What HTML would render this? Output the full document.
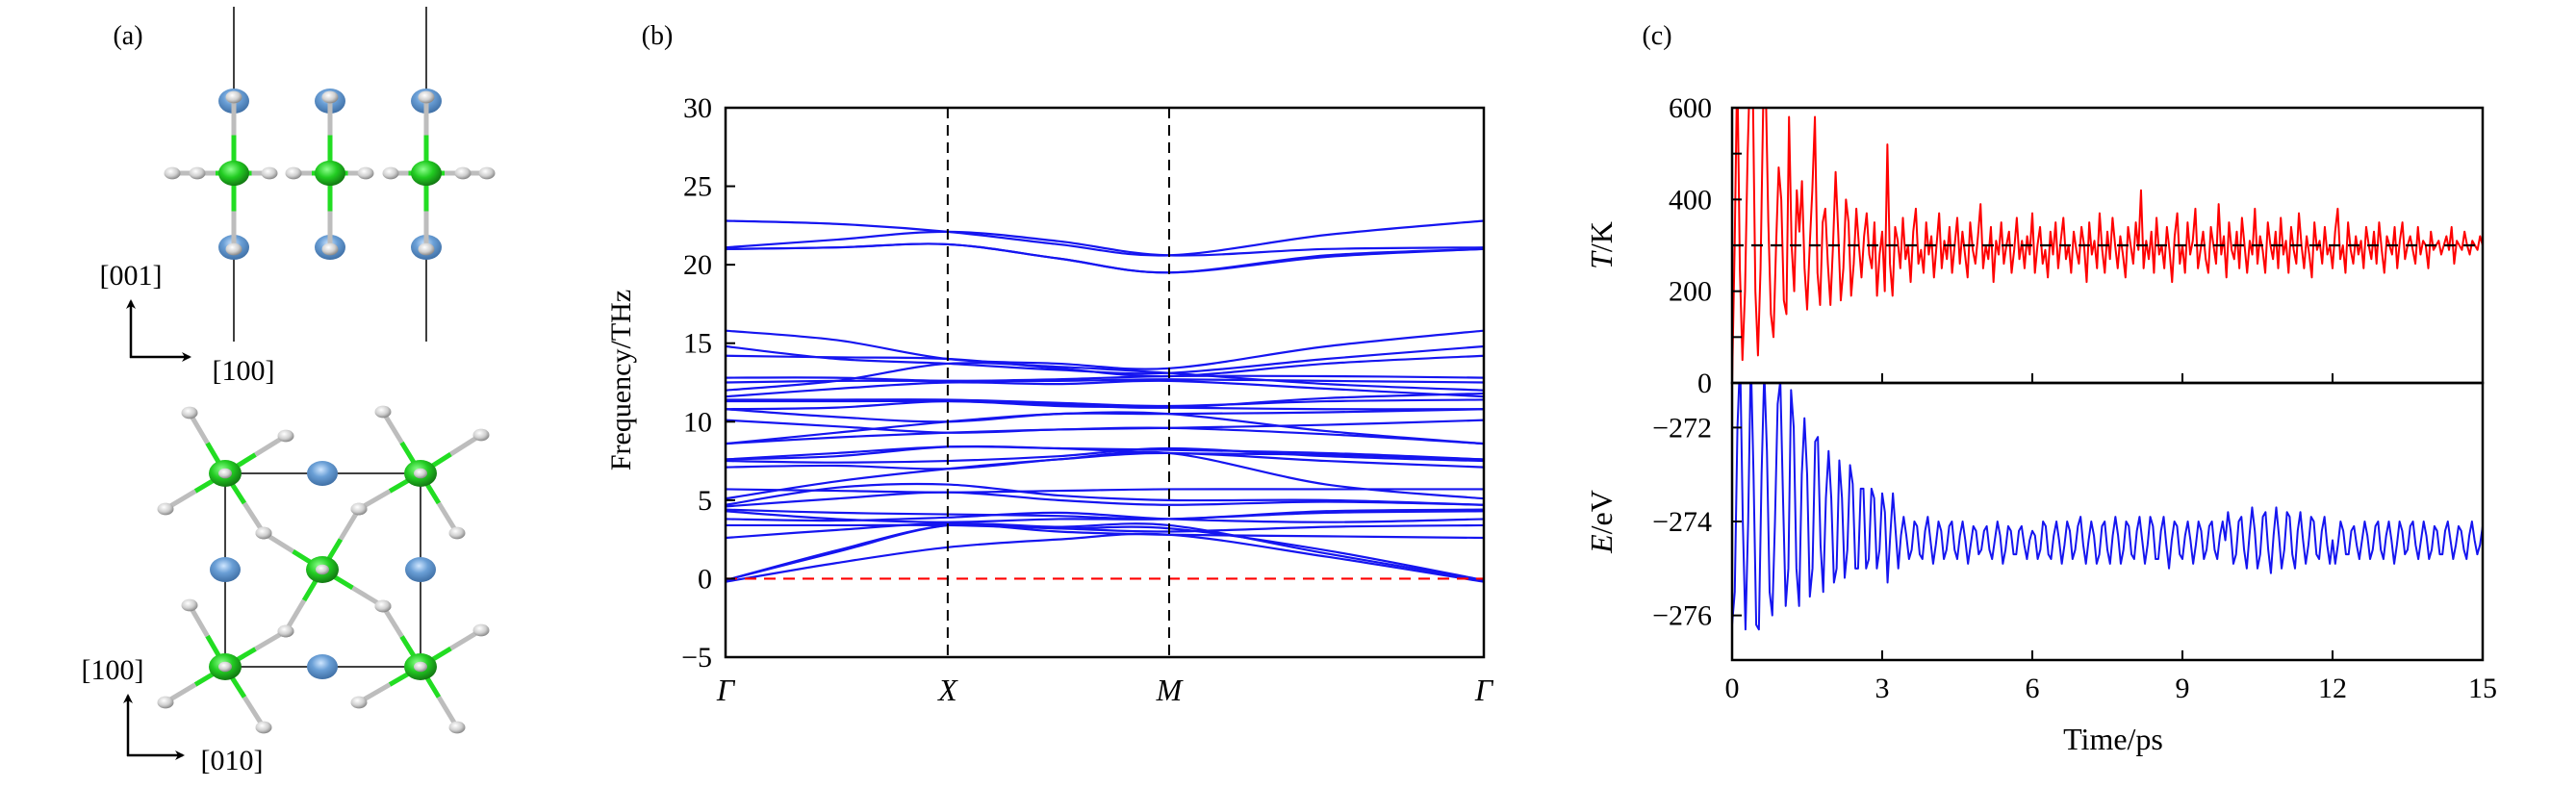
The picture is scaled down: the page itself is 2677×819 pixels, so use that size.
<!DOCTYPE html>
<html><head><meta charset="utf-8"><style>
html,body{margin:0;padding:0;background:#fff;}
svg{display:block;font-family:"Liberation Serif",serif;}
</style></head><body>
<svg id="fig" width="2677" height="819" viewBox="0 0 2677 819" xmlns="http://www.w3.org/2000/svg">
<defs>
<radialGradient id="gG" cx="40%" cy="35%" r="65%"><stop offset="0" stop-color="#8cff8c"/><stop offset="0.5" stop-color="#22cc22"/><stop offset="1" stop-color="#137a13"/></radialGradient>
<radialGradient id="gB" cx="45%" cy="35%" r="65%"><stop offset="0" stop-color="#cfe6ff"/><stop offset="0.45" stop-color="#6a9fd6"/><stop offset="1" stop-color="#3f6fa5"/></radialGradient>
<radialGradient id="gH" cx="40%" cy="35%" r="65%"><stop offset="0" stop-color="#ffffff"/><stop offset="0.6" stop-color="#cfcfcf"/><stop offset="1" stop-color="#8a8a8a"/></radialGradient>
<clipPath id="clipB"><rect x="754" y="112" width="788" height="571"/></clipPath>
<clipPath id="clipT"><rect x="1800" y="112" width="780" height="286"/></clipPath>
<clipPath id="clipE"><rect x="1800" y="398" width="780" height="288"/></clipPath>
<marker id="arr" markerWidth="10" markerHeight="10" refX="8" refY="5" orient="auto" markerUnits="userSpaceOnUse"><path d="M0,0 L10,5 L0,10 L3,5 Z" fill="#000"/></marker>
</defs>
<g id="panelA"></g>
<g id="panelB"></g>
<g id="panelC"></g>
</svg>
<script>
// ---------- Panel (b) data ----------
const kLabels = ["Γ","X","M","Γ"];
const kNodes = [0, 0.293, 0.585, 1];
const kSamples = [0, 0.1465, 0.293, 0.439, 0.585, 0.7925, 1];
const freqTicks = [-5,0,5,10,15,20,25,30];
const bands = [
[22.8,22.6,22.1,21.3,20.6,21.9,22.8],
[21.1,21.6,22.1,21.5,20.6,21.0,21.1],
[21.0,21.1,21.3,20.4,19.5,20.5,21.0],
[21.0,21.1,21.3,20.4,19.5,20.6,21.0],
[15.8,15.2,14.0,13.7,13.4,14.8,15.8],
[14.8,14.0,13.7,13.3,13.1,14.0,14.8],
[14.2,14.1,14.0,13.4,12.9,13.7,14.2],
[12.8,12.8,12.6,12.7,12.9,12.9,12.8],
[12.5,12.6,12.6,12.6,12.7,12.6,12.5],
[12.0,12.6,13.7,13.5,13.1,12.4,12.0],
[11.6,12.1,12.5,12.4,12.6,12.1,11.6],
[11.4,11.4,11.4,11.2,11.0,11.3,11.4],
[11.3,11.3,11.3,11.1,10.9,11.5,11.8],
[10.8,10.9,11.3,11.0,10.9,10.8,10.8],
[10.8,10.3,10.0,10.5,10.5,10.6,10.8],
[10.1,9.7,9.3,9.5,9.6,9.8,10.1],
[8.6,9.3,10.0,10.5,10.5,9.4,8.6],
[8.6,9.0,9.3,9.5,9.6,9.2,8.6],
[7.6,8.0,8.4,8.3,8.2,8.0,7.6],
[7.6,7.8,8.4,8.3,8.0,7.9,7.6],
[7.5,7.4,7.5,7.8,8.3,7.8,7.5],
[7.1,7.2,7.0,7.6,8.0,7.5,7.1],
[5.7,5.6,5.5,5.6,5.7,5.7,5.7],
[5.1,6.2,7.0,7.6,8.0,6.0,5.1],
[4.7,5.8,6.0,5.3,5.0,5.0,4.7],
[4.6,5.1,5.5,5.0,4.7,4.9,4.7],
[4.4,4.2,4.1,4.0,3.8,4.3,4.4],
[4.3,3.8,3.6,3.8,3.8,4.2,4.3],
[3.8,3.7,3.9,4.2,3.8,3.6,3.8],
[3.4,3.4,3.4,3.2,3.0,3.3,3.4],
[2.6,3.1,3.5,3.0,2.8,2.7,2.6],
[-0.1,1.8,3.4,3.2,3.2,1.8,-0.1],
[-0.1,1.7,3.4,3.3,3.4,1.6,-0.1],
[-0.2,1.0,2.0,2.5,2.8,1.4,-0.2]
];
// ---------- Panel (c) data ----------
const timeTicks = [0,3,6,9,12,15];
const tempTicks = [0,200,400,600];
const energyTicks = [-272,-274,-276];
const targetTemp = 300;
const temperature = [0,300,700,250,50,200,500,700,650,200,60,250,600,650,350,150,100,300,470,400,180,150,580,300,200,420,330,440,250,160,300,420,580,240,170,350,380,260,170,300,460,330,180,250,400,350,190,260,380,300,230,320,370,280,250,350,190,280,330,200,520,260,190,340,
310,250,360,270,300,220,330,380,260,290,240,350,280,320,230,300,370,250,310,270,
340,240,300,360,260,330,280,230,350,290,260,320,390,250,300,270,340,220,310,280,
350,260,300,330,240,290,360,270,310,250,320,280,370,240,300,340,260,290,230,330,
280,350,250,310,360,270,300,240,330,290,260,340,300,220,350,280,310,250,370,290,
240,330,270,360,300,250,320,280,230,340,300,260,350,290,420,250,310,270,330,240,
360,280,300,250,340,290,220,320,370,260,300,240,350,280,310,380,250,290,330,270,
240,340,300,260,390,280,320,230,350,290,270,330,250,360,300,240,310,280,380,260,
320,290,240,350,300,270,330,250,360,280,310,240,340,290,260,370,300,250,320,280,
230,350,290,310,260,340,280,300,250,330,380,270,300,240,350,290,260,320,280,310,
250,340,300,270,330,260,350,290,240,320,300,280,340,250,310,350,270,300,320,290,
260,340,280,310,300,250,330,290,300,310,280,300,320,290,340,260,310,300,290,330,
300,280,310,300,290,320,300];
const energy = [-276.2,-275.5,-272,-270.5,-274,-276.3,-274,-270.5,-273,-276.2,-276.3,-273,-270.8,-272.5,-275.5,-276,-274,-271.5,-271,-273.5,-275.8,-275,-271.2,-272,-275,-275.8,-273,-271.8,-273,-275.6,-275,-272.3,-272.2,-274.5,-275.5,-273.5,-272.5,-273.5,-275.3,-275,-272.7,-273.5,-275.2,-274.6,-272.8,-273.2,-275,-275,-273.3,-273.3,-275,-274.8,-273.3,-273.5,-275,-274.6,-273.4,-273.8,-275.3,-274.3,-273.4,-274.2,-275,-274.3,
-273.9,-274.3,-274.8,-274.6,-274.0,-274.1,-274.7,-274.8,-274.2,-273.9,-274.4,-274.9,-274.5,-274.0,-274.2,-274.8,-274.6,-274.1,-274.0,-274.6,
-274.8,-274.3,-274.0,-274.4,-274.9,-274.5,-274.1,-274.2,-274.7,-274.6,-274.2,-274.1,-274.6,-274.8,-274.4,-274.0,-274.3,-274.9,-274.6,-274.1,
-274.2,-274.7,-274.7,-274.2,-274.1,-274.5,-274.8,-274.4,-274.2,-274.3,-274.8,-274.6,-274.0,-274.1,-274.7,-274.8,-274.3,-274.0,-274.4,-274.9,
-274.5,-274.0,-274.2,-274.8,-274.6,-274.1,-273.9,-274.5,-274.9,-274.4,-274.0,-274.3,-274.9,-274.7,-274.1,-274.0,-274.6,-274.9,-274.3,-273.9,
-274.3,-274.9,-274.6,-274.0,-274.1,-274.7,-274.8,-274.2,-273.9,-274.4,-274.9,-274.5,-273.9,-274.1,-274.8,-274.8,-274.2,-273.9,-274.5,-275.0,
-274.4,-274.0,-274.1,-274.7,-274.8,-274.3,-274.0,-274.4,-274.9,-274.5,-274.0,-274.2,-274.8,-274.6,-274.1,-274.0,-274.6,-274.8,-274.3,-274.0,
-274.4,-273.8,-274.2,-274.9,-274.7,-274.0,-273.9,-274.6,-275.0,-274.3,-273.7,-274.2,-275.0,-274.7,-273.9,-273.8,-274.6,-275.1,-274.3,-273.7,
-274.3,-275.0,-274.6,-273.8,-273.9,-274.7,-275.0,-274.2,-273.8,-274.4,-274.9,-274.5,-273.9,-274.0,-274.7,-274.8,-274.2,-273.9,-274.5,-274.9,
-274.4,-274.9,-274.5,-274.0,-274.2,-274.7,-274.7,-274.2,-274.1,-274.5,-274.8,-274.4,-274.0,-274.3,-274.8,-274.6,-274.1,-274.0,-274.6,-274.8,
-274.3,-274.0,-274.4,-274.9,-274.5,-274.0,-274.2,-274.7,-274.6,-274.1,-274.0,-274.5,-274.8,-274.4,-274.0,-274.3,-274.8,-274.6,-274.1,-274.2,
-274.7,-274.7,-274.2,-274.0,-274.4,-274.8,-274.5,-274.1,-274.2,-274.6,-274.8,-274.3,-274.0,-274.4,-274.7,-274.5,-274.1];

const NS = "http://www.w3.org/2000/svg";
function mk(parent, tag, attrs, text){
  const el = document.createElementNS(NS, tag);
  for (const k in attrs) el.setAttribute(k, attrs[k]);
  if (text !== undefined) el.textContent = text;
  parent.appendChild(el);
  return el;
}

// ================= Panel (a) =================
(function(){
  const g = document.getElementById('panelA');
  let t = mk(g,'text',{x:133,y:46,'font-size':28,'text-anchor':'middle'},'(a)');
  
  
  // top view lines
  [243,443].forEach(x=>{
    let l = mk(g,'line',{x1:x,y1:7,x2:x,y2:355,stroke:'#000','stroke-width':1.5});
    
    
  });
  const H = (x,y,r)=>{const c=mk(g,'ellipse',{cx:x,cy:y,rx:r||8.5,ry:(r||8.5)*0.75,fill:'url(#gH)'});};
  const G = (x,y,r)=>{const c=mk(g,'ellipse',{cx:x,cy:y,rx:r||16,ry:(r||16)*0.82,fill:'url(#gG)'});};
  const B = (x,y)=>{const c=mk(g,'ellipse',{cx:x,cy:y,rx:16,ry:13,fill:'url(#gB)'});};
  const bond=(x1,y1,x2,y2)=>{
    const mx=(x1+x2)/2,my=(y1+y2)/2;
    let a=mk(g,'line',{x1:x1,y1:y1,x2:mx,y2:my,stroke:'#22dd22','stroke-width':5});
    
    
    let b=mk(g,'line',{x1:mx,y1:my,x2:x2,y2:y2,stroke:'#bdbdbd','stroke-width':5});
    
    
  };
  [243,343,443].forEach(x=>{
    B(x,105); B(x,257);
    bond(x,180,x,101); bond(x,180,x,259);
  });
  [[243,205],[343,305],[343,380],[443,481],[243,280],[443,406]].forEach(p=>{});
  // horizontal chain
  const hx=[179,205,280,305,380,406,481,506];
  bond(243,180,205,180); bond(243,180,280,180); bond(343,180,305,180); bond(343,180,380,180); bond(443,180,406,180); bond(443,180,481,180);
  mk(g,'line',{x1:179,y1:180,x2:205,y2:180,stroke:'#bdbdbd','stroke-width':5});
  mk(g,'line',{x1:481,y1:180,x2:506,y2:180,stroke:'#bdbdbd','stroke-width':5});
  hx.forEach(x=>H(x,180));
  [243,343,443].forEach(x=>{G(x,180); H(x,101); H(x,259);});
  // axes arrows top
  const arrow=(x1,y1,x2,y2,name)=>{let a=mk(g,'line',{x1:x1,y1:y1,x2:x2,y2:y2,stroke:'#000','stroke-width':2.5,'marker-end':'url(#arr)'});};
  arrow(136,372,136,313,'axis-arrow-001');
  arrow(135,371,197,371,'axis-arrow-100');
  t=mk(g,'text',{x:136,y:296,'font-size':30,'text-anchor':'middle'},'[001]');
  
  
  t=mk(g,'text',{x:253,y:395,'font-size':30,'text-anchor':'middle'},'[100]');
  
  
  // bottom view
  let box=mk(g,'rect',{x:234,y:492,width:203,height:201,fill:'none',stroke:'#000','stroke-width':1.5});
  
  
  const groups=[
    [234,492,[[197,429],[297,453],[172,529],[274,554]]],
    [437,492,[[398,428],[500,452],[373,529],[475,554]]],
    [335,592,[[274,554],[373,529],[398,630],[297,656]]],
    [234,693,[[197,629],[172,730],[274,756],[297,656]]],
    [437,693,[[398,630],[500,655],[373,730],[475,756]]]
  ];
  groups.forEach(gr=>gr[2].forEach(h=>bond(gr[0],gr[1],h[0],h[1])));
  [[335,492],[234,592],[437,592],[335,693]].forEach(p=>B(p[0],p[1]));
  groups.forEach(gr=>gr[2].forEach(h=>H(h[0],h[1])));
  groups.forEach(gr=>{G(gr[0],gr[1],17); H(gr[0],gr[1],7);});
  arrow(133,786,133,723,'axis-arrow-100b');
  arrow(132,785,190,785,'axis-arrow-010');
  t=mk(g,'text',{x:117,y:706,'font-size':30,'text-anchor':'middle'},'[100]');
  
  
  t=mk(g,'text',{x:241,y:800,'font-size':30,'text-anchor':'middle'},'[010]');
  
  
})();

// ================= Panel (b) =================
(function(){
  const g = document.getElementById('panelB');
  const L=754,R=1542,T=112,B=683, yMin=-5,yMax=30;
  const xs = k => L + k*(R-L);
  const ys = v => B - (v-yMin)/(yMax-yMin)*(B-T);
  let t=mk(g,'text',{x:683,y:46,'font-size':28,'text-anchor':'middle'},'(b)');
  
  
  const plot = mk(g,'g',{'clip-path':'url(#clipB)'});
  
  
  // bands
  bands.forEach((vals,bi)=>{
    const pts = vals.map((v,i)=>[xs(kSamples[i]), ys(v)]);
    let d = 'M'+pts[0][0]+','+pts[0][1];
    for(let i=0;i<pts.length-1;i++){
      const p0=pts[Math.max(0,i-1)],p1=pts[i],p2=pts[i+1],p3=pts[Math.min(pts.length-1,i+2)];
      const c1=[p1[0]+(p2[0]-p0[0])/6, p1[1]+(p2[1]-p0[1])/6];
      const c2=[p2[0]-(p3[0]-p1[0])/6, p2[1]-(p3[1]-p1[1])/6];
      d+=' C'+c1[0]+','+c1[1]+' '+c2[0]+','+c2[1]+' '+p2[0]+','+p2[1];
    }
    const p = mk(plot,'path',{d:d,fill:'none',stroke:'#1515f0','stroke-width':2.2});
    
    
  });
  // zero line
  let z=mk(plot,'line',{x1:L,y1:ys(0),x2:R,y2:ys(0),stroke:'#ff0000','stroke-width':2.2,'stroke-dasharray':'12,8'});
  
  
  // vertical high-symmetry lines
  [1,2].forEach(i=>{
    const l=mk(g,'line',{x1:xs(kNodes[i]),y1:T,x2:xs(kNodes[i]),y2:B,stroke:'#000','stroke-width':2,'stroke-dasharray':'11,7'});
    
    
  });
  // frame
  let f=mk(g,'rect',{x:L,y:T,width:R-L,height:B-T,fill:'none',stroke:'#000','stroke-width':2.5});
  
  
  freqTicks.forEach(v=>{
    const tk=mk(g,'line',{x1:L,y1:ys(v),x2:L+10,y2:ys(v),stroke:'#000','stroke-width':2});
    
    
    const lb=mk(g,'text',{x:740,y:ys(v)+10,'font-size':30,'text-anchor':'end'},v<0?'−'+(-v):String(v));
    
    
  });
  kLabels.forEach((lab,i)=>{
    const lb=mk(g,'text',{x:xs(kNodes[i]),y:728,'font-size':32,'font-style':'italic','text-anchor':'middle'},lab);
    
    
  });
  const yl=mk(g,'text',{x:0,y:0,'font-size':30,'text-anchor':'middle',transform:'translate(655,395) rotate(-90)'},'Frequency/THz');
  
  
})();

// ================= Panel (c) =================
(function(){
  const g = document.getElementById('panelC');
  const L=1800,R=2580,T1=112,M=398,B2=686;
  const tMax=15;
  const xs = t => L + t/tMax*(R-L);
  const yT = v => M - v/600*(M-T1);
  const eMin=-276.95,eMax=-271.05;
  const yE = v => B2 - (v-eMin)/(eMax-eMin)*(B2-M);
  let t=mk(g,'text',{x:1722,y:46,'font-size':28,'text-anchor':'middle'},'(c)');
  
  
  const dtT = tMax/(temperature.length-1);
  const dtE = tMax/(energy.length-1);
  const pT = mk(g,'polyline',{points:temperature.map((v,i)=>xs(i*dtT)+','+yT(v)).join(' '),fill:'none',stroke:'#ff0000','stroke-width':2,'clip-path':'url(#clipT)','stroke-linejoin':'round'});
  
  
  const tl = mk(g,'line',{x1:L,y1:yT(targetTemp),x2:R,y2:yT(targetTemp),stroke:'#000','stroke-width':2.2,'stroke-dasharray':'12,8'});
  
  
  const pE = mk(g,'polyline',{points:energy.map((v,i)=>xs(i*dtE)+','+yE(v)).join(' '),fill:'none',stroke:'#1515f0','stroke-width':2,'clip-path':'url(#clipE)','stroke-linejoin':'round'});
  
  
  let f1=mk(g,'rect',{x:L,y:T1,width:R-L,height:M-T1,fill:'none',stroke:'#000','stroke-width':2.5});
  
  
  let f2=mk(g,'rect',{x:L,y:M,width:R-L,height:B2-M,fill:'none',stroke:'#000','stroke-width':2.5});
  
  
  tempTicks.forEach(v=>{
    const lb=mk(g,'text',{x:1779,y:yT(v)+10,'font-size':30,'text-anchor':'end'},String(v));
    
    
  });
  [100,200,300,400,500].forEach(v=>{
    const tk=mk(g,'line',{x1:L,y1:yT(v),x2:L+10,y2:yT(v),stroke:'#000','stroke-width':2});
    
    
  });
  energyTicks.forEach(v=>{
    const tk=mk(g,'line',{x1:L,y1:yE(v),x2:L+10,y2:yE(v),stroke:'#000','stroke-width':2});
    
    
    const lb=mk(g,'text',{x:1779,y:yE(v)+10,'font-size':30,'text-anchor':'end'},'−'+(-v));
    
    
  });
  timeTicks.forEach(v=>{
    const a=mk(g,'line',{x1:xs(v),y1:M,x2:xs(v),y2:M-10,stroke:'#000','stroke-width':2});
    
    
    const b=mk(g,'line',{x1:xs(v),y1:B2,x2:xs(v),y2:B2-10,stroke:'#000','stroke-width':2});
    
    
    const lb=mk(g,'text',{x:xs(v),y:725,'font-size':30,'text-anchor':'middle'},String(v));
    
    
  });
  const xl=mk(g,'text',{x:2196,y:779,'font-size':32,'text-anchor':'middle'},'Time/ps');
  
  
  const tlb=mk(g,'text',{x:0,y:0,'font-size':32,'text-anchor':'middle',transform:'translate(1675,255) rotate(-90)'});
  
  
  mk(tlb,'tspan',{'font-style':'italic'},'T');
  mk(tlb,'tspan',{},'/K');
  const elb=mk(g,'text',{x:0,y:0,'font-size':32,'text-anchor':'middle',transform:'translate(1675,542) rotate(-90)'});
  
  
  mk(elb,'tspan',{'font-style':'italic'},'E');
  mk(elb,'tspan',{},'/eV');
})();
</script>
</body></html>
